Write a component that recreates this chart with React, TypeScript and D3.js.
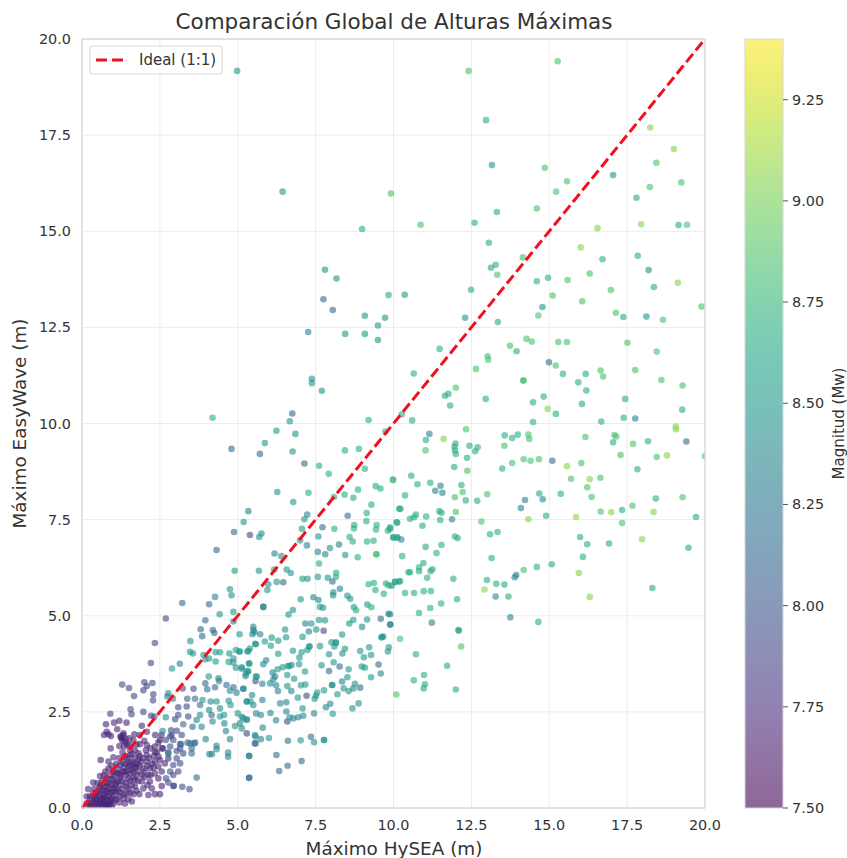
import React from "react";
import * as d3 from "d3";

const W = 847, H = 858;
const plot = { left: 82, right: 705, top: 39, bottom: 808 };
const bar = { left: 745, right: 783 };
const font = "'DejaVu Sans', sans-serif";
const xTicks = [0, 2.5, 5, 7.5, 10, 12.5, 15, 17.5, 20];
const yTicks = [0, 2.5, 5, 7.5, 10, 12.5, 15, 17.5, 20];
const magTicks = [7.5, 7.75, 8, 8.25, 8.5, 8.75, 9, 9.25];
const titleText = "Comparación Global de Alturas Máximas";
const xLabel = "Máximo HySEA (m)";
const yLabel = "Máximo EasyWave (m)";
const barLabel = "Magnitud (Mw)";
const legendLabel = "Ideal (1:1)";

type P = [number, number];

const mag765: P[] = [[1.52,1.81],[1.33,1.9],[1.27,1.81],[1.38,1.73],[1.65,1.77],[0.92,1.55],[1.2,1.61],[1.54,1.51],[1.86,1.66],[2.08,1.64],[2.34,1.6],[2.5,1.77],[2.56,1.55],[2.34,1.46],[1.81,1.42],[1.54,1.38],[2.08,1.38],[2.45,1.34],[2.77,1.29],[2.66,1.16],[2.34,1.21],[2.08,1.21],[1.81,1.25],[1.59,1.21],[1.38,1.34],[1.01,1.32],[0.6,1.25],[0.85,1.21],[1.22,1.12],[1.49,1.08],[1.75,1.08],[1.97,1.03],[2.18,1.03],[2.45,1.08],[2.56,0.95],[2.34,0.9],[2.13,0.86],[1.92,0.86],[1.65,0.95],[1.38,0.95],[1.11,0.9],[0.85,1.03],[0.58,0.83],[0.79,0.77],[1.01,0.73],[1.22,0.77],[1.49,0.77],[1.7,0.73],[1.92,0.69],[2.18,0.69],[2.45,0.77],[2.56,0.57],[0.36,0.66],[0.58,0.56],[0.79,0.56],[1.01,0.51],[1.22,0.6],[1.43,0.56],[1.7,0.56],[1.97,0.51],[2.24,0.51],[2.5,0.36],[1.6,0.17],[1.84,0.36],[2.13,0.34],[2.34,0.36],[0.2,0.49],[0.36,0.38],[0.58,0.38],[0.79,0.4],[1.01,0.34],[1.22,0.4],[1.43,0.38],[1.65,0.36],[0.15,0.3],[0.31,0.25],[0.47,0.21],[0.69,0.23],[0.9,0.21],[1.11,0.23],[1.33,0.25],[1.49,0.23],[0.26,0.12],[0.42,0.12],[0.58,0.12],[0.74,0.12],[0.85,0.1],[1.01,0.12],[1.2,0.14],[1.38,0.12],[0.2,0.08],[1.3,1.2],[1.45,1.3],[1.6,1.4],[1.7,1.3],[1.75,1.15],[1.9,1.2],[1.55,1.1],[1.35,1.05],[1.15,1.0],[1.0,0.95],[0.9,0.85],[0.75,0.95],[0.65,0.7],[0.5,0.65],[0.85,0.65],[0.95,0.6],[1.1,0.65],[1.25,0.85],[1.4,0.85],[1.55,0.9],[1.8,0.95],[2.0,0.95],[2.1,1.1],[2.25,1.15],[2.5,1.25],[2.3,1.35],[2.05,1.5],[2.2,1.55],[1.45,1.65],[1.35,1.6],[1.3,1.75],[1.25,1.85],[0.45,0.3],[0.55,0.3],[0.65,0.45],[0.75,0.3],[0.85,0.3],[0.95,0.4],[0.6,0.2],[0.7,0.15],[0.8,0.2],[0.9,0.15],[0.35,0.15],[0.5,0.05],[0.65,0.05],[0.85,0.05],[0.25,0.3],[0.4,0.5],[1.15,0.45],[1.3,0.5],[1.5,0.5],[1.8,0.7],[1.6,0.6],[2.0,1.75],[1.85,1.9],[2.35,1.9],[2.55,1.9],[2.6,1.55],[2.45,1.7],[1.03,2.22],[1.2,2.27],[0.77,2.18],[1.43,2.22],[1.13,2.05],[0.79,1.98],[0.71,1.9],[0.85,1.92],[0.93,1.87],[1.33,1.94],[1.24,1.86],[1.68,1.92],[1.92,2.14],[2.08,1.98],
[1.4,1.15],[1.5,1.2],[1.65,1.15],[1.7,1.05],[1.85,1.1],[1.95,1.3],[1.6,1.0],[1.45,0.95],[1.3,0.95],[1.2,0.9],[1.05,0.85],[0.95,0.75],[0.8,0.65],[0.7,0.55],[0.6,0.6],[0.75,0.45],[0.9,0.5],[1.05,0.6],[1.15,0.7],[1.3,0.7],[1.4,0.65],[1.55,0.7],[1.65,0.8],[1.75,0.85],[2.0,0.8],[2.1,0.6],[2.2,0.85],[2.3,1.05],[2.4,1.45],[2.15,1.3],[1.85,1.35],[1.7,1.5],[1.75,1.65],[1.5,1.65],[1.4,1.8],[1.3,1.45],[1.2,1.3],[1.1,1.15],[0.95,1.1],[0.7,0.85],[0.55,0.45],[0.45,0.4],[0.5,0.15],[0.4,0.25],[0.6,0.1],[0.7,0.3],[0.8,0.1],[0.95,0.25],[1.05,0.2],[1.2,0.3],[1.35,0.35],[1.55,0.4],[1.75,0.45],[0.3,0.05],[0.4,0.05],[0.75,0.05],[0.95,0.05],[0.15,0.12],[1.1,0.5],[1.05,0.42],[0.85,0.42],[0.65,0.25]];

const mag79: P[] = [[2.34,4.29],[2.21,3.77],[1.29,3.21],[1.51,3.12],[2.0,3.27],[2.26,3.25],[2.08,3.17],[1.97,3.06],[2.29,2.96],[1.67,2.91],[2.28,2.8],[2.69,4.93],[5.39,7.1],[1.56,2.57],[1.59,2.44],[1.97,2.5],[0.91,2.45],[2.22,2.4],[2.32,2.37],[2.83,1.86],[2.93,1.77],[3.15,1.66],[2.77,1.44],[3.15,1.55],[3.25,1.42],[2.83,1.6],[3.04,1.29],[2.93,1.12],[3.15,1.16],[3.09,0.95],[2.83,0.95],[2.7,0.77],[2.93,0.86],[2.77,0.66],[2.95,0.58],[3.22,0.55],[3.45,0.49],[2.93,0.57],[3.09,2.62],[3.36,2.64],[2.99,2.31],[3.09,2.42],[3.41,2.38],[2.86,2.02],[3.04,2.01],[3.2,1.9],[2.88,1.9],[2.69,1.77],[3.04,1.48],[3.58,3.1],[3.23,3.11],[5.57,3.3],[6.59,2.25],[7.21,2.92],[7.76,4.61],[5.29,1.94]];

const mag815: P[] = [[6.75,10.26],[4.8,9.34],[5.71,9.21],[7.14,8.96],[4.32,6.71],[4.88,7.18],[7.72,7.3],[4.08,5.3],[3.22,5.33],[5.82,5.23],[3.96,4.88],[3.81,4.65],[4.2,4.63],[4.25,4.55],[3.86,4.47],[8.53,7.6],[8.04,5.89],[6.46,5.87],[9.59,4.92],[5.55,1.68],[5.36,0.78],[6.24,1.38],[6.6,1.1],[6.33,0.96],[7.05,1.22],[5.37,1.35],[6.61,1.75],[7.35,1.85],[5.57,1.68],[5.57,1.86],[8.93,3.13],[9.52,3.73],[8.27,3.68],[7.93,3.56],[3.68,0.79],[5.37,0.79],[3.79,2.68],[3.63,2.84],[3.38,2.84],[3.25,2.18],[3.55,2.11],[3.39,1.7],[3.18,1.66],[3.6,1.68],[3.52,1.42],[3.52,1.55],[3.63,1.7],[3.47,1.68],[3.96,3.24],[4.02,3.09],[4.27,3.14],[4.16,2.42],[4.64,3.2],[4.86,3.14],[7.75,13.23],[14.99,11.59],[15.1,9.03],[19.4,9.53],[8.05,12.95]];

const mag835: P[] = [[17.76,10.13],[11.15,9.73],[5.34,7.72],[7.23,7.63],[5.76,7.14],[7.22,6.83],[7.81,6.6],[8.25,6.85],[7.57,6.66],[6.18,6.62],[5.82,5.23],[4.27,5.49],[7.43,5.48],[7.59,5.41],[8.28,5.7],[8.06,5.53],[9.84,5.05],[9.9,4.77],[4.86,4.85],[5.5,4.71],[5.5,4.63],[5.54,4.57],[5.47,4.52],[5.72,4.52],[7.17,4.8],[7.28,4.59],[8.99,4.71],[5.58,4.26],[5.46,2.94],[5.29,2.77],[5.5,2.68],[5.79,2.81],[5.59,2.46],[5.74,2.42],[5.13,2.37],[5.29,2.29],[5.07,2.2],[5.13,2.07],[5.8,2.09],[5.74,1.79],[4.69,1.44],[4.69,1.33],[4.32,1.62],[4.32,1.53],[3.97,1.79],[5.36,1.36],[4.17,1.4],[4.09,1.4],[2.77,1.42],[2.59,2.0],[4.75,1.79],[4.62,2.0],[4.57,2.2],[4.19,2.25],[3.84,2.11],[3.68,2.29],[3.79,2.42],[2.69,2.36],[2.74,2.9],[2.77,2.98],[2.92,2.84],[4.13,2.77],[4.08,2.55],[4.43,2.59],[4.38,3.37],[4.4,3.3],[5.18,3.1],[4.75,3.05],[4.96,3.0],[9.59,3.5],[8.03,3.2],[7.83,2.62],[7.97,2.71],[8.71,3.11],[8.35,3.29],[6.2,3.42],[6.14,3.35],[6.04,3.24],[6.12,3.52],[6.23,3.19],[6.29,3.04],[6.72,3.04],[5.79,3.23],[5.31,3.56],[5.25,3.43],[5.61,3.42],[5.36,3.76],[5.13,3.66],[5.18,3.1],[5.82,3.74],[5.91,3.84],[6.78,2.33],[6.94,2.36],[7.1,2.4],[7.45,2.46],[6.56,2.51],[6.56,2.75],[6.36,2.72],[6.05,2.47],[6.23,2.28],[9.89,5.04],[9.89,4.77],[9.94,5.78],[10.05,5.88],[10.18,5.89],[10.0,7.03],[10.12,7.04],[10.25,6.98],[9.89,7.26],[10.1,7.43],[10.22,7.78],[11.88,7.51],[11.51,8.38],[11.34,8.25],[11.57,8.2],[14.79,8.03],[14.22,8.01],[14.09,7.8],[13.89,6.0],[13.94,6.06],[13.28,5.5],[12.09,4.63],[11.23,4.82],[13.75,4.96],[7.26,12.38],[3.14,3.75]];

const mag85: P[] = [[4.98,19.17],[13.16,16.72],[8.17,13.77],[7.8,14.0],[10.36,13.35],[14.78,13.03],[12.3,12.75],[17.05,16.46],[18.19,13.99],[18.12,12.78],[6.44,16.03],[6.24,9.81],[5.87,9.49],[6.67,10.06],[6.85,9.73],[6.76,9.27],[6.27,8.22],[6.78,7.96],[5.19,7.44],[5.69,7.05],[7.14,7.51],[7.06,7.26],[7.0,6.96],[7.59,7.06],[6.4,6.55],[7.96,6.76],[8.45,6.58],[4.9,6.17],[5.68,6.17],[6.17,6.2],[6.57,6.2],[6.7,6.11],[7.57,6.01],[7.08,5.96],[7.24,5.96],[7.89,5.99],[6.25,5.88],[5.98,5.82],[5.95,5.67],[4.75,5.69],[4.8,5.53],[8.07,5.61],[8.52,5.52],[8.61,5.44],[7.02,5.43],[7.64,5.23],[7.74,5.21],[8.73,5.22],[6.77,5.15],[6.63,5.03],[4.86,5.1],[4.42,5.04],[9.16,5.29],[5.06,4.52],[6.52,4.64],[7.36,4.8],[7.61,4.89],[7.8,4.88],[7.52,4.64],[8.58,4.8],[8.71,4.89],[9.15,4.9],[8.35,4.51],[9.63,4.44],[7.08,4.45],[6.09,4.43],[6.55,4.44],[5.56,4.27],[5.39,4.15],[5.31,4.07],[5.07,4.07],[6.3,4.35],[6.06,4.22],[6.3,4.01],[5.87,4.33],[6.77,4.09],[7.05,4.05],[6.98,3.91],[6.97,3.74],[6.73,3.72],[6.61,3.69],[6.44,3.66],[6.28,3.61],[6.59,3.46],[6.66,3.69],[6.81,3.36],[6.59,3.17],[7.03,3.19],[7.17,3.21],[7.16,3.55],[7.3,4.2],[7.3,4.2],[7.24,4.11],[7.64,4.21],[7.69,3.71],[7.93,4.0],[8.08,3.79],[8.01,4.31],[8.15,4.3],[8.15,4.3],[8.1,4.2],[8.44,4.14],[8.36,4.02],[8.56,3.61],[8.52,3.4],[8.4,3.11],[8.56,3.04],[8.76,3.23],[7.77,3.06],[7.55,3.0],[7.51,2.92],[6.93,2.87],[7.47,2.84],[8.2,2.96],[7.08,2.59],[8.88,2.72],[8.68,2.59],[8.05,2.45],[6.66,2.36],[6.0,1.82],[7.02,1.76],[7.45,1.71],[7.77,1.77],[7.77,1.77],[3.48,4.34],[3.47,4.06],[3.56,4.02],[3.9,3.98],[4.08,3.89],[3.96,3.87],[4.29,4.05],[4.43,4.05],[4.73,4.02],[4.94,4.11],[5.05,4.07],[5.34,4.08],[4.29,3.81],[4.71,3.8],[4.86,3.78],[4.86,3.89],[4.94,3.65],[5.13,3.62],[5.26,3.49],[5.34,3.55],[5.37,3.76],[5.58,3.42],[2.89,3.63],[4.07,3.42],[3.87,2.81],[4.32,2.77],[4.71,2.79],[5.29,2.77],[5.41,2.77],[4.77,2.68],[4.43,2.38],[4.56,2.42],[5.0,2.46],[5.18,2.33],[5.29,2.31],[5.55,1.9],[4.91,2.13],[8.98,3.68],[9.08,3.65],[9.05,3.92],[8.93,4.08],[9.28,3.98],[9.22,4.18],[9.28,3.4],[9.82,4.07],[9.85,4.18],[9.61,4.44],[9.67,4.46],[8.03,3.2],[7.38,11.16],[7.38,11.05],[7.7,10.85],[8.45,12.33],[9.08,12.8],[9.08,12.33],[9.5,12.17],[9.73,12.75],[9.5,12.55]];

const mag865: P[] = [[8.99,15.06],[12.97,17.89],[13.06,14.7],[12.49,13.48],[9.84,13.34],[12.6,15.22],[13.32,15.5],[13.28,14.13],[13.13,14.05],[14.6,13.7],[14.96,13.79],[16.71,14.27],[17.84,14.36],[18.36,13.55],[17.38,12.77],[13.35,12.64],[19.15,15.16],[17.8,15.87],[9.2,10.09],[9.74,9.79],[8.44,9.3],[8.89,9.34],[7.61,8.9],[7.92,8.69],[9.08,8.82],[9.98,8.54],[7.27,8.2],[8.09,8.09],[8.43,8.15],[8.71,8.07],[8.86,8.28],[9.43,8.37],[9.58,8.31],[9.29,7.89],[10.18,7.78],[9.14,7.67],[9.13,7.46],[10.12,7.42],[8.1,7.26],[8.74,7.36],[8.73,7.27],[9.46,7.36],[9.44,7.24],[9.89,7.3],[9.82,7.21],[8.59,7.05],[8.69,6.93],[9.15,6.93],[9.36,6.95],[9.99,7.05],[10.12,7.03],[8.85,6.52],[9.45,6.6],[7.61,6.36],[9.2,5.82],[9.37,5.85],[9.76,5.84],[9.84,5.79],[10.05,5.88],[10.21,5.9],[9.42,5.67],[9.69,5.57],[8.8,5.14],[9.29,5.22],[11.48,11.94],[10.65,11.3],[11.76,10.77],[11.65,10.72],[11.82,10.47],[10.27,10.24],[10.6,10.08],[12.96,10.64],[13.95,11.88],[15.44,11.29],[16.17,11.29],[14.17,11.12],[15.93,11.07],[16.19,10.86],[14.82,10.7],[14.48,10.55],[16.05,10.51],[15.21,10.25],[19.27,10.36],[14.48,10.04],[16.67,10.05],[17.39,10.15],[11.04,9.57],[13.57,9.69],[13.81,9.62],[13.99,9.71],[11.99,9.48],[11.96,9.4],[12.44,9.42],[12.7,9.38],[12.62,9.28],[11.97,9.3],[12.0,9.21],[17.05,9.51],[18.17,9.54],[12.36,9.11],[13.49,8.83],[11.95,8.87],[17.83,8.81],[10.57,8.64],[10.77,8.42],[11.18,8.46],[12.18,8.4],[10.37,8.13],[12.32,8.0],[12.69,7.99],[14.68,8.18],[15.37,8.17],[18.42,8.05],[11.47,7.72],[11.54,7.68],[17.34,7.75],[10.72,7.63],[10.66,7.56],[10.53,7.52],[11.05,7.58],[14.9,7.6],[11.5,7.49],[10.93,7.34],[13.34,7.18],[13.1,7.12],[11.97,7.06],[12.06,7.02],[11.03,6.79],[11.54,6.84],[11.38,6.63],[10.28,6.55],[13.15,6.5],[16.08,6.53],[10.96,6.37],[10.82,6.26],[10.82,6.16],[10.48,6.13],[10.53,6.13],[11.25,6.21],[11.19,6.16],[15.08,6.34],[14.6,6.27],[11.08,5.99],[11.92,5.96],[13.0,5.93],[13.3,5.83],[13.56,5.81],[18.31,5.72],[10.37,5.59],[10.66,5.59],[10.97,5.64],[11.2,5.64],[13.69,5.5],[12.04,5.43],[11.53,5.32],[11.18,5.2],[10.82,5.07],[14.65,4.84],[10.72,4.0],[11.72,3.7],[12.09,4.61],[10.65,3.32],[10.98,3.46],[11.01,3.22],[10.97,3.11],[12.0,3.08],[19.47,6.77],[16.22,6.86],[16.92,6.88],[15.99,7.05],[19.71,7.57],[17.44,10.64],[4.19,10.15],[8.16,6.12],[8.15,6.01]];

const mag88: P[] = [[15.27,19.42],[12.41,19.17],[9.92,15.98],[18.44,16.78],[14.86,16.65],[15.57,16.3],[15.22,16.03],[18.23,16.15],[19.24,16.27],[14.6,15.59],[19.42,15.17],[10.87,15.17],[15.59,13.73],[15.11,13.33],[16.06,13.18],[16.98,13.47],[19.89,13.04],[17.14,12.88],[14.65,12.81],[18.65,12.7],[13.33,13.87],[14.15,14.32],[16.3,13.9],[17.51,12.1],[18.45,11.87],[12.0,10.93],[13.02,11.75],[13.04,11.66],[12.65,11.42],[13.74,12.02],[14.27,12.2],[14.44,12.13],[15.29,12.12],[15.57,12.12],[15.21,11.51],[16.65,11.38],[16.73,11.22],[17.76,11.39],[18.6,11.13],[19.28,10.99],[12.33,9.85],[14.33,9.71],[14.36,9.6],[16.16,9.65],[17.09,9.7],[17.15,9.66],[17.69,9.47],[13.56,9.42],[11.03,9.3],[17.29,9.18],[18.45,9.13],[20.0,9.15],[14.18,9.07],[14.4,9.03],[14.67,9.07],[13.81,8.97],[16.03,8.97],[12.37,8.77],[9.99,8.53],[15.7,8.56],[16.64,8.59],[16.22,8.34],[12.22,8.22],[13.01,8.16],[11.97,8.08],[16.36,8.09],[19.28,8.08],[17.67,7.86],[12.0,7.7],[16.65,7.71],[12.82,7.45],[17.34,7.41],[14.18,6.19],[10.21,4.4],[12.17,4.2],[10.09,2.95],[9.45,6.6],[14.17,11.12]];

const mag905: P[] = [[18.24,17.7],[19.0,17.14],[16.55,15.08],[17.95,15.18],[16.01,14.58],[19.13,13.66],[19.06,9.92],[19.07,9.85],[18.78,9.17],[15.86,7.57],[14.33,7.51],[18.35,7.7],[16.99,7.69],[15.95,6.11],[16.3,5.49],[17.98,6.99],[12.92,5.68],[14.95,10.38],[15.57,8.89],[11.61,9.6],[16.3,8.55]];

const groups: [number, P[]][] = [[7.7, mag765], [7.92, mag79], [8.15, mag815], [8.35, mag835], [8.5, mag85], [8.68, mag865], [8.85, mag88], [9.05, mag905]];

const magMin = 7.5, magMax = 9.4;
const gridStops = d3.range(0, 1.0001, 0.05);

export default function App() {
  const x = d3.scaleLinear().domain([0, 20]).range([plot.left, plot.right]);
  const y = d3.scaleLinear().domain([0, 20]).range([plot.bottom, plot.top]);
  const m = d3.scaleLinear().domain([magMin, magMax]).range([plot.bottom, plot.top]);
  const color = d3.scaleSequential(d3.interpolateViridis).domain([magMin, magMax]);
  const text = "#333";
  return (
    <svg width={W} height={H} viewBox={`0 0 ${W} ${H}`} style={{ position: "absolute", left: 0, top: 0, display: "block", background: "#fff", fontFamily: font }}>
      <defs>
        <clipPath id="ax"><rect x={plot.left} y={plot.top} width={plot.right - plot.left} height={plot.bottom - plot.top} /></clipPath>
        <linearGradient id="cb" x1="0" y1="1" x2="0" y2="0">
          {gridStops.map((t) => <stop key={t} offset={t} stopColor={d3.interpolateViridis(t)} />)}
        </linearGradient>
      </defs>
      <text x={394} y={29} textAnchor="middle" fontSize={21.5} fill={text}>{titleText}</text>
      {xTicks.map((t) => <line key={t} x1={x(t)} x2={x(t)} y1={plot.top} y2={plot.bottom} stroke="#ececec" strokeWidth={1} />)}
      {yTicks.map((t) => <line key={t} x1={plot.left} x2={plot.right} y1={y(t)} y2={y(t)} stroke="#ececec" strokeWidth={1} />)}
      <g clipPath="url(#ax)">
        {groups.map(([mag, pts]) => pts.map((p, i) => (
          <circle key={`${mag}-${i}`} cx={x(p[0])} cy={y(p[1])} r={3.3} fill={color(mag)} fillOpacity={0.6} />
        )))}
      </g>
      <line x1={x(0)} y1={y(0)} x2={x(20)} y2={y(20)} stroke="#f01020" strokeWidth={3} strokeDasharray="10.5 4.5" />
      <rect x={plot.left} y={plot.top} width={plot.right - plot.left} height={plot.bottom - plot.top} fill="none" stroke="#d6d6d6" strokeWidth={1.2} />
      {xTicks.map((t) => <text key={t} x={x(t)} y={830} textAnchor="middle" fontSize={14.4} fill={text}>{t.toFixed(1)}</text>)}
      {yTicks.map((t) => <text key={t} x={71} y={y(t) + 5} textAnchor="end" fontSize={14.4} fill={text}>{t.toFixed(1)}</text>)}
      <text x={394} y={855} textAnchor="middle" fontSize={18.4} fill={text}>{xLabel}</text>
      <text transform={`translate(26,${(plot.top + plot.bottom) / 2 + 0}) rotate(-90)`} textAnchor="middle" fontSize={18.4} fill={text}>{yLabel}</text>
      <g>
        <rect x={90} y={46} width={132} height={28} rx={3} fill="#fff" fillOpacity={0.85} stroke="#dcdcdc" strokeWidth={1.2} />
        <line x1={96} x2={125} y1={60} y2={60} stroke="#f01020" strokeWidth={3} strokeDasharray="11 5" />
        <text x={139} y={64.5} fontSize={15} fill={text}>{legendLabel}</text>
      </g>
      <rect x={bar.left} y={plot.top} width={bar.right - bar.left} height={plot.bottom - plot.top} fill="url(#cb)" fillOpacity={0.6} stroke="#d6d6d6" strokeWidth={1} />
      {magTicks.map((t) => (
        <g key={t}>
          <line x1={bar.right} x2={bar.right + 5} y1={m(t)} y2={m(t)} stroke="#555" strokeWidth={1} />
          <text x={792} y={m(t) + 5} fontSize={14.4} fill={text}>{t.toFixed(2)}</text>
        </g>
      ))}
      <text transform={`translate(844,${(plot.top + plot.bottom) / 2 + 0}) rotate(-90)`} textAnchor="middle" fontSize={15} fill={text}>{barLabel}</text>
    </svg>
  );
}
